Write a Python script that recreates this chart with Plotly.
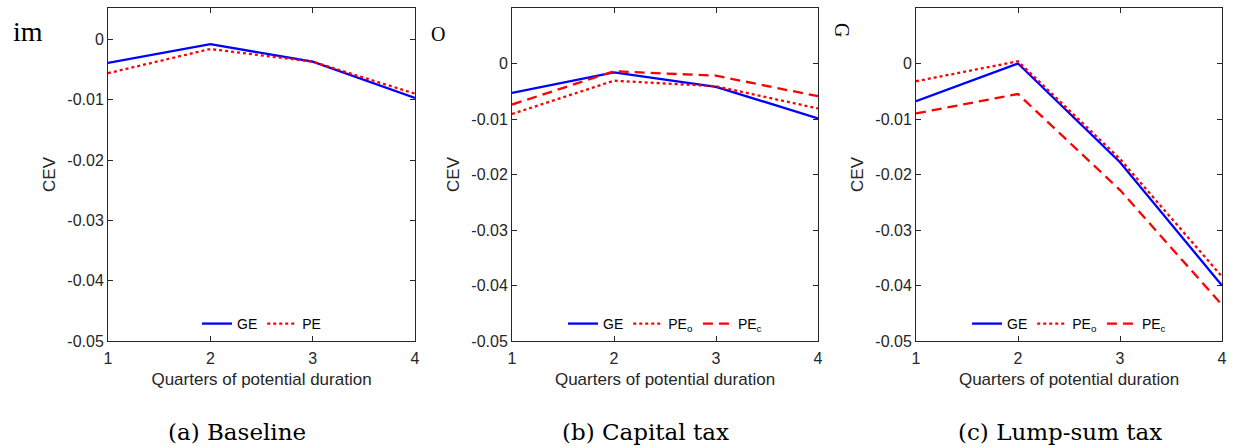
import plotly.graph_objects as go

quarters = [1, 2, 3, 4]

# (a) Baseline
a_ge = [-0.0039, -0.0008, -0.0037, -0.0097]
a_pe = [-0.0056, -0.0016, -0.0037, -0.0090]

# (b) Capital tax
b_ge = [-0.0053, -0.0016, -0.0042, -0.0099]
b_peo = [-0.0091, -0.0031, -0.0041, -0.0081]
b_pec = [-0.0074, -0.0014, -0.0022, -0.0059]

# (c) Lump-sum tax
c_ge = [-0.0068, 0.0000, -0.0178, -0.0400]
c_peo = [-0.0032, 0.0004, -0.0172, -0.0384]
c_pec = [-0.0090, -0.0055, -0.0228, -0.0435]

ytick_a = [0, -0.01, -0.02, -0.03, -0.04, -0.05]
ytext_a = ["0", "-0.01", "-0.02", "-0.03", "-0.04", "-0.05"]
ytick_bc = [0.01, 0, -0.01, -0.02, -0.03, -0.04, -0.05]
ytext_bc = ["0.01", "0", "-0.01", "-0.02", "-0.03", "-0.04", "-0.05"]
captions = ["(a) Baseline", "(b) Capital tax", "(c) Lump-sum tax"]

W, H = 1235, 447
BLUE = "#0000FF"
RED = "#FF0000"
AX = "#262626"

fig = go.Figure()

def add(x, y, name, color, dash, axis, legend, show=True):
    fig.add_trace(go.Scatter(
        x=x, y=y, name=name, mode="lines",
        line=dict(color=color, width=2.3, dash=dash),
        xaxis="x" + axis, yaxis="y" + axis, legend=legend, showlegend=show))

add(quarters, a_ge, "GE", BLUE, "solid", "", "legend")
add(quarters, a_pe, "PE", RED, "dot", "", "legend")
add(quarters, b_ge, "GE", BLUE, "solid", "2", "legend2")
add(quarters, b_peo, "PE<sub>o</sub>", RED, "dot", "2", "legend2")
add(quarters, b_pec, "PE<sub>c</sub>", RED, "10px,6px", "2", "legend2")
add(quarters, c_ge, "GE", BLUE, "solid", "3", "legend3")
add(quarters, c_peo, "PE<sub>o</sub>", RED, "dot", "3", "legend3")
add(quarters, c_pec, "PE<sub>c</sub>", RED, "10px,6px", "3", "legend3")

xdoms = [(108, 415), (512, 818), (916, 1222)]
ytop, ybot = 8, 341
ydom = [1 - ybot / H, 1 - ytop / H]
font_tick = dict(family="Liberation Sans, Arial, sans-serif", size=16, color=AX)
font_title = dict(family="Liberation Sans, Arial, sans-serif", size=17, color=AX)

layout = dict(
    width=W, height=H,
    margin=dict(l=0, r=0, t=0, b=0, autoexpand=False),
    paper_bgcolor="white", plot_bgcolor="white",
    font=font_tick,
)

for i, (x0, x1) in enumerate(xdoms):
    sfx = "" if i == 0 else str(i + 1)
    layout["xaxis" + sfx] = dict(
        domain=[x0 / W, x1 / W], range=[1, 4],
        anchor="y" + sfx, automargin=False,
        tickvals=quarters, ticktext=[str(q) for q in quarters],
        ticks="inside", ticklen=5, tickcolor=AX, tickwidth=1,
        showline=True, linecolor=AX, linewidth=1, mirror="ticks",
        showgrid=False, zeroline=False,
        title=dict(text="Quarters of potential duration", font=font_title, standoff=6),
        tickfont=font_tick, ticklabelstandoff=3,
    )
    if i == 0:
        yr, tv, tt = [-0.05, 0.0052], ytick_a, ytext_a
    else:
        yr, tv, tt = [-0.05, 0.01], ytick_bc, ytext_bc
    layout["yaxis" + sfx] = dict(
        domain=ydom, range=yr, anchor="x" + sfx, automargin=False,
        tickvals=tv, ticktext=tt,
        ticks="inside", ticklen=5, tickcolor=AX, tickwidth=1,
        showline=True, linecolor=AX, linewidth=1, mirror="ticks",
        showgrid=False, zeroline=False,
        title=dict(text="CEV", font=font_title, standoff=7),
        tickfont=font_tick,
    )

leg_common = dict(
    orientation="h", xanchor="center", yanchor="middle",
    bgcolor="rgba(0,0,0,0)", borderwidth=0, itemwidth=30,
    font=dict(family="Liberation Sans, Arial, sans-serif", size=14, color="black"),
    tracegroupgap=0, itemclick=False,
)
for i, (x0, x1) in enumerate(xdoms):
    key = "legend" if i == 0 else "legend" + str(i + 1)
    d = dict(leg_common)
    d["x"] = ((x0 + x1) / 2) / W
    d["y"] = 1 - 324 / H
    layout[key] = d

ann = []
cap_x = [237, 645, 1060]
for cx, txt in zip(cap_x, captions):
    ann.append(dict(x=cx / W, y=1 - 432 / H, xref="paper", yref="paper",
                    text=txt, showarrow=False, xanchor="center", yanchor="middle",
                    font=dict(family="DejaVu Serif, serif", size=23, color="black")))
# stray cropped glyphs visible in the original figure
ann.append(dict(x=28 / W, y=1 - 32 / H, xref="paper", yref="paper", text="im",
                showarrow=False, xanchor="center", yanchor="middle",
                font=dict(family="Liberation Serif, serif", size=28, color="black")))
ann.append(dict(x=438 / W, y=1 - 34 / H, xref="paper", yref="paper", text="O",
                showarrow=False, xanchor="center", yanchor="middle",
                font=dict(family="Liberation Serif, serif", size=20, color="black")))
ann.append(dict(x=842 / W, y=1 - 30 / H, xref="paper", yref="paper", text="G",
                showarrow=False, xanchor="center", yanchor="middle", textangle=90,
                font=dict(family="Liberation Serif, serif", size=20, color="black")))
layout["annotations"] = ann

fig.update_layout(**layout)
fig.write_html("out.html")
